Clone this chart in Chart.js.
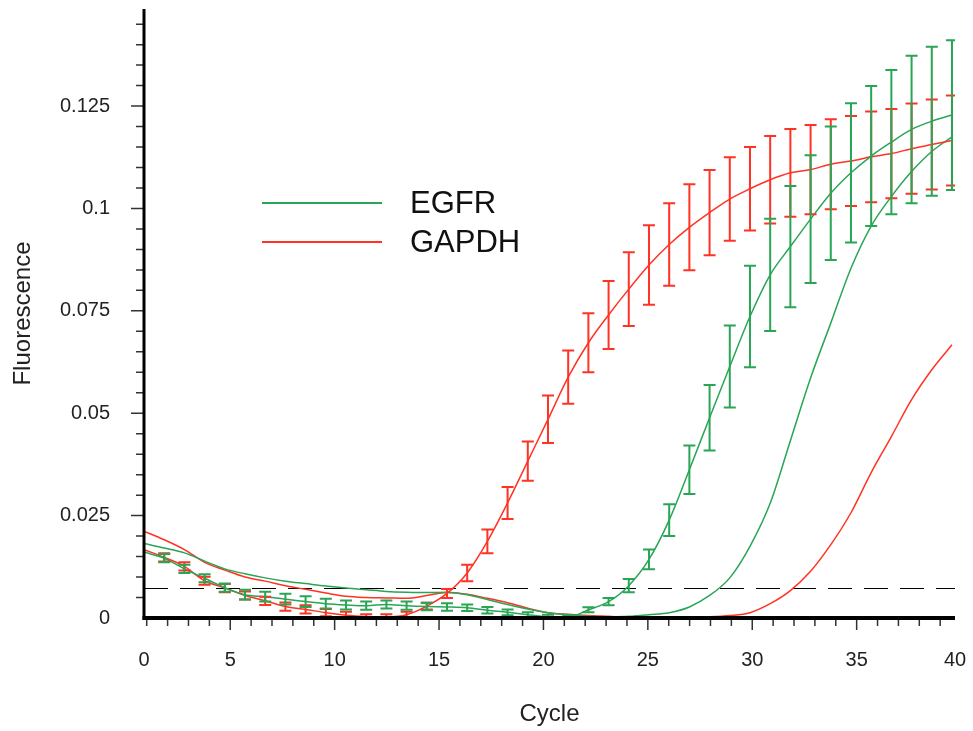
<!DOCTYPE html>
<html>
<head>
<meta charset="utf-8">
<script src="https://cdn.jsdelivr.net/npm/chart.js@4.4.1/dist/chart.umd.min.js"></script>
<style>
  html, body { margin: 0; padding: 0; background: #fff; }
  #wrap { width: 973px; height: 731px; }
</style>
</head>
<body>
<div id="wrap"><canvas id="qpcrChart" width="973" height="731"></canvas></div>
<script>
// cycle numbers (one point per cycle)
const cycles = [0,1,2,3,4,5,6,7,8,9,10,11,12,13,14,15,16,17,18,19,20,
                21,22,23,24,25,26,27,28,29,30,31,32,33,34,35,36,37,38,39,40];

// EGFR mean curve with error bars
const egfrMean = [0.0161,0.0146,0.0120,0.0097,0.0074,0.0057,0.0052,0.0046,0.0040,0.0035,
                  0.0032,0.0030,0.0033,0.0030,0.0028,0.0027,0.0025,0.0019,0.0014,0.0008,
                  0.0003,0.0002,0.0020,0.0040,0.0079,0.0143,0.0239,0.0362,0.0489,0.0614,
                  0.0736,0.0838,0.0907,0.0974,0.1037,0.1087,0.1128,0.1162,0.1193,0.1213,0.1228];
const egfrErr = [0,0.0010,0.0010,0.0010,0.0010,0.0012,0.0012,0.0013,0.0013,0.0012,
                 0.0011,0.0010,0.0010,0.0010,0.0009,0.0009,0.0008,0.0008,0.0007,0.0006,
                 0.0005,0.0005,0.0006,0.0009,0.0016,0.0024,0.0039,0.0059,0.0080,0.0100,
                 0.0124,0.0137,0.0148,0.0156,0.0163,0.0170,0.0171,0.0176,0.0180,0.0182,0.0183];

// GAPDH mean curve with error bars
const gapdhMean = [0.0167,0.0148,0.0126,0.0091,0.0073,0.0055,0.0042,0.0028,0.0021,0.0013,
                   0.0007,0.0003,0.0003,0.0008,0.0029,0.0060,0.0110,0.0187,0.0281,0.0383,
                   0.0485,0.0588,0.0672,0.0740,0.0803,0.0862,0.0912,0.0954,0.0990,0.1023,
                   0.1048,0.1070,0.1087,0.1095,0.1108,0.1116,0.1126,0.1134,0.1146,0.1156,0.1166];
const gapdhErr = [0,0.0010,0.0010,0.0010,0.0010,0.0010,0.0010,0.0010,0.0010,0.0009,
                  0.0008,0.0006,0.0006,0.0007,0.0008,0.0011,0.0020,0.0029,0.0039,0.0048,
                  0.0058,0.0065,0.0072,0.0083,0.0090,0.0097,0.0101,0.0105,0.0104,0.0102,
                  0.0102,0.0107,0.0107,0.0109,0.0110,0.0110,0.0111,0.0109,0.0110,0.0110,0.0110];

// single curves without error bars
const egfrSample = [0.0182,0.0171,0.0159,0.0139,0.0120,0.0108,0.0098,0.0090,0.0084,0.0078,
                    0.0073,0.0069,0.0065,0.0063,0.0062,0.0063,0.0057,0.0045,0.0033,0.0022,
                    0.0013,0.0008,0.0004,0.0003,0.0004,0.0008,0.0013,0.0027,0.0055,0.0098,
                    0.0175,0.0280,0.0433,0.0586,0.0720,0.0854,0.0957,0.1029,0.1090,0.1139,0.1175];
const gapdhSample = [0.0212,0.0191,0.0167,0.0136,0.0117,0.0100,0.0090,0.0079,0.0070,0.0061,
                     0.0053,0.0050,0.0049,0.0048,0.0055,0.0062,0.0058,0.0048,0.0037,0.0024,
                     0.0013,0.0009,0.0006,0.0004,0.0002,0.0002,0.0002,0.0002,0.0003,0.0006,
                     0.0013,0.0035,0.0067,0.0114,0.0179,0.0257,0.0355,0.0443,0.0533,0.0606,0.0667];

const threshold = 0.0072;

// axis ticks
const yTickValues = [0, 0.025, 0.05, 0.075, 0.1, 0.125];
const yTickLabels = ['0', '0.025', '0.05', '0.075', '0.1', '0.125'];
const xTickLabels = ['0', '5', '10', '15', '20', '25', '30', '35', '40'];

const GREEN = 'rgb(40,165,85)';
const RED = 'rgb(255,50,35)';
const FONT = "'Liberation Sans', Arial, sans-serif";

function toPoints(ys) {
    return cycles.map((c, i) => ({ x: c, y: ys[i] }));
}

function noEdgePadding(scale) {
    scale.paddingTop = 0;
    scale.paddingBottom = 0;
    scale.paddingLeft = 0;
    scale.paddingRight = 0;
}

// error bars drawn from the data scales
const errorBars = {
    id: 'errorBars',
    afterDatasetsDraw(chart) {
        const ctx = chart.ctx;
        const xs = chart.scales.x;
        const ys = chart.scales.y;
        const area = chart.chartArea;
        const sets = [[gapdhMean, gapdhErr, RED], [egfrMean, egfrErr, GREEN]];
        ctx.save();
        ctx.beginPath();
        ctx.rect(area.left, area.top, area.right - area.left, area.bottom - area.top);
        ctx.clip();
        ctx.lineWidth = 2;
        sets.forEach(([mean, err, color]) => {
            ctx.strokeStyle = color;
            cycles.forEach((c, i) => {
                if (!err[i]) return;
                const px = xs.getPixelForValue(c);
                const top = ys.getPixelForValue(mean[i] + err[i]);
                const bot = ys.getPixelForValue(mean[i] - err[i]);
                ctx.beginPath();
                ctx.moveTo(px, top); ctx.lineTo(px, bot);
                ctx.moveTo(px - 6, top); ctx.lineTo(px + 6, top);
                ctx.moveTo(px - 6, bot); ctx.lineTo(px + 6, bot);
                ctx.stroke();
            });
        });
        ctx.restore();
    }
};

// axis lines, tick marks and the legend
const axesAndLegend = {
    id: 'axesAndLegend',
    afterDraw(chart) {
        const ctx = chart.ctx;
        const area = chart.chartArea;
        const xa = chart.scales.xAxis;
        const ys = chart.scales.y;
        ctx.save();
        ctx.strokeStyle = '#333';
        ctx.lineWidth = 1.5;
        ctx.beginPath();
        for (let c = 1; c <= 39; c++) {
            const px = xa.getPixelForValue(c);
            ctx.moveTo(px, area.bottom);
            ctx.lineTo(px, area.bottom + (c % 5 === 0 ? 12 : 8));
        }
        for (let i = 1; i * 0.005 < ys.max; i++) {
            const py = ys.getPixelForValue(i * 0.005);
            ctx.moveTo(area.left, py);
            ctx.lineTo(area.left - (i % 5 === 0 ? 13 : 8), py);
        }
        ctx.stroke();

        ctx.strokeStyle = '#000';
        ctx.lineWidth = 3;
        ctx.beginPath();
        ctx.moveTo(area.left, area.top);
        ctx.lineTo(area.left, area.bottom + 2);
        ctx.stroke();
        ctx.lineWidth = 4;
        ctx.beginPath();
        ctx.moveTo(area.left - 1.5, area.bottom);
        ctx.lineTo(area.right, area.bottom);
        ctx.stroke();

        // legend
        const entries = [['EGFR', GREEN, 203], ['GAPDH', RED, 242]];
        ctx.font = '31px ' + FONT;
        ctx.textBaseline = 'middle';
        ctx.textAlign = 'left';
        entries.forEach(([label, color, y]) => {
            ctx.strokeStyle = color;
            ctx.lineWidth = 2;
            ctx.beginPath();
            ctx.moveTo(262, y);
            ctx.lineTo(382, y);
            ctx.stroke();
            ctx.fillStyle = '#111';
            ctx.fillText(label, 410, y + 1);
        });
        ctx.restore();
    }
};

function lineSet(label, ys, color) {
    return {
        label: label,
        data: toPoints(ys),
        borderColor: color,
        borderWidth: 1.5,
        pointRadius: 0,
        cubicInterpolationMode: 'monotone',
        fill: false,
        xAxisID: 'x',
        yAxisID: 'y'
    };
}

const ctx = document.getElementById('qpcrChart').getContext('2d');
const chart = new Chart(ctx, {
    type: 'line',
    data: {
        datasets: [
            lineSet('EGFR', egfrMean, GREEN),
            lineSet('GAPDH', gapdhMean, RED),
            lineSet('EGFR sample', egfrSample, GREEN),
            lineSet('GAPDH sample', gapdhSample, RED),
            {
                label: 'Threshold',
                data: [{ x: cycles[0], y: threshold }, { x: 40.15, y: threshold }],
                borderColor: '#000',
                borderWidth: 1,
                borderDash: [24, 12],
                pointRadius: 0,
                xAxisID: 'x',
                yAxisID: 'y'
            }
        ]
    },
    options: {
        responsive: false,
        devicePixelRatio: 1,
        animation: false,
        layout: { padding: { top: 9, right: 18, left: 0, bottom: 0 } },
        plugins: {
            legend: { display: false },
            tooltip: { enabled: false }
        },
        scales: {
            x: {
                type: 'linear',
                min: 0,
                max: 40.15,
                display: false,
                afterFit: noEdgePadding
            },
            xAxis: {
                type: 'linear',
                axis: 'x',
                position: 'bottom',
                min: 0.87,
                max: 39.71,
                grid: { display: false, drawTicks: false },
                border: { display: false },
                afterBuildTicks: (scale) => {
                    scale.ticks = [scale.min, 5, 10, 15, 20, 25, 30, 35, scale.max].map(v => ({ value: v }));
                },
                afterFit: (scale) => { scale.height = 113; noEdgePadding(scale); },
                ticks: {
                    autoSkip: false,
                    maxRotation: 0,
                    padding: 30,
                    color: '#222',
                    font: { family: FONT, size: 20 },
                    callback: (value, index) => xTickLabels[index]
                },
                title: {
                    display: true,
                    text: 'Cycle',
                    color: '#222',
                    font: { family: FONT, size: 24 },
                    padding: { top: 0, bottom: 2 }
                }
            },
            y: {
                type: 'linear',
                min: 0,
                max: 0.1487,
                grid: { display: false, drawTicks: false },
                border: { display: false },
                afterBuildTicks: (scale) => {
                    scale.ticks = yTickValues.map(v => ({ value: v }));
                },
                afterFit: (scale) => { scale.width = 144; noEdgePadding(scale); },
                ticks: {
                    padding: 34,
                    color: '#222',
                    font: { family: FONT, size: 20 },
                    callback: (value, index) => yTickLabels[index]
                },
                title: {
                    display: true,
                    text: 'Fluorescence',
                    color: '#222',
                    font: { family: FONT, size: 24 },
                    padding: { top: 9, bottom: 0 }
                }
            }
        }
    },
    plugins: [errorBars, axesAndLegend]
});
</script>
</body>
</html>
